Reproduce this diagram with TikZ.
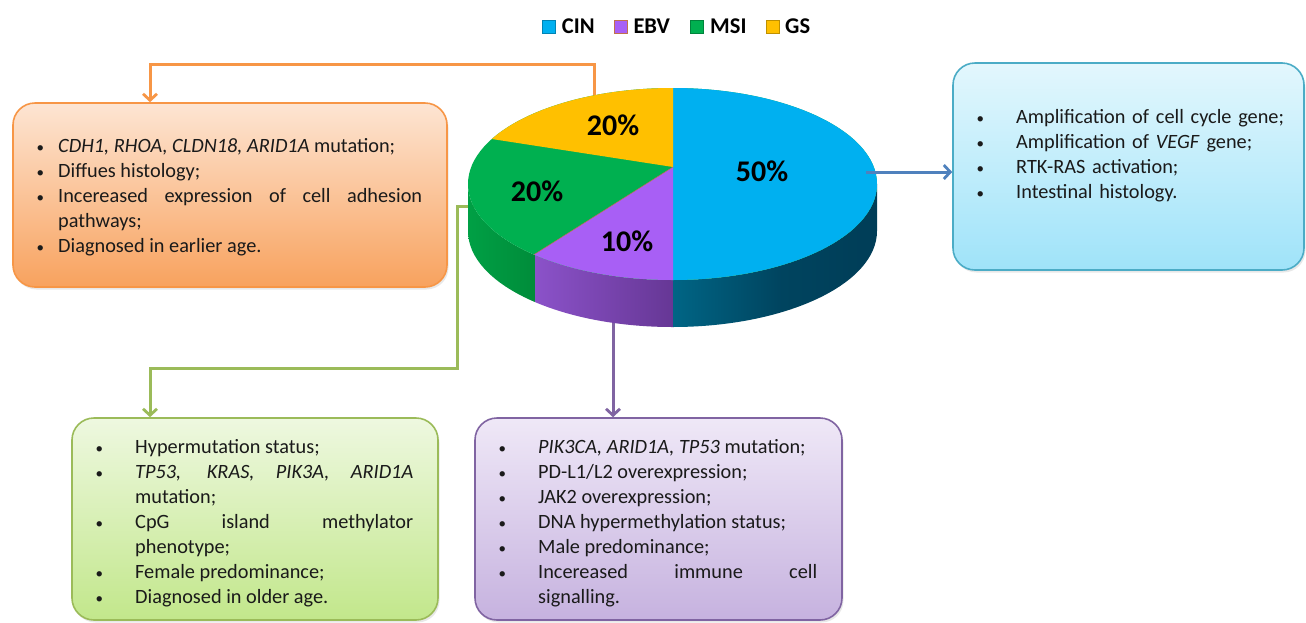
\documentclass[tikz,border=0pt]{standalone}
\usepackage{fontspec}
\setmainfont{Carlito}
\usetikzlibrary{arrows.meta,shadows}
\definecolor{cinblue}{HTML}{00B0F0}
\definecolor{ebvpurple}{HTML}{A85FF5}
\definecolor{msigreen}{HTML}{00B050}
\definecolor{gsyellow}{HTML}{FFC000}
\definecolor{cinsideL}{HTML}{006585}
\definecolor{cinsideM}{HTML}{00445F}
\definecolor{cinsideR}{HTML}{003C56}
\definecolor{ebvsideL}{HTML}{8B52C9}
\definecolor{ebvsideR}{HTML}{663795}
\definecolor{msisideL}{HTML}{00A246}
\definecolor{msisideR}{HTML}{008C3A}
\definecolor{gsline}{HTML}{F79646}
\definecolor{msiline}{HTML}{9BBB59}
\definecolor{cinline}{HTML}{4F81BD}
\definecolor{ebvline}{HTML}{8064A2}
\definecolor{cinframe}{HTML}{4BACC6}
\definecolor{gsTop}{HTML}{FDE5D3}
\definecolor{gsBot}{HTML}{F8A25E}
\definecolor{cinTop}{HTML}{E3F7FD}
\definecolor{cinBot}{HTML}{9FE3F9}
\definecolor{msiTop}{HTML}{EEF8E0}
\definecolor{msiBot}{HTML}{C2E78B}
\definecolor{ebvTop}{HTML}{EFE8F7}
\definecolor{ebvBot}{HTML}{C6B2DF}
\definecolor{inktext}{HTML}{1A1A1A}
\definecolor{sliceedge}{HTML}{C0704D}
\newcommand{\bitem}[2]{\hangindent=#1\hangafter=1\noindent\makebox[#1][l]{\rule{0pt}{16pt}\hspace*{1.5pt}{\fontsize{15}{15}\selectfont\textbullet}}#2\par}
\begin{document}
\begin{tikzpicture}[x=1pt,y=-1pt,
  box/.style={draw, line width=1.6pt, rounded corners=22pt, inner sep=0pt,
    drop shadow={opacity=0.18,shadow xshift=1.5pt,shadow yshift=-2.5pt}},
  txt/.style={anchor=north west, inner sep=0pt, align=justify, text=inktext},
  conn/.style={line width=3pt, -{Straight Barb[length=6.5pt,width=14pt,line width=2.8pt]}},
  pct/.style={font=\fontsize{30}{30}\selectfont\bfseries, inner sep=0pt},
  leg/.style={font=\fontsize{22.5}{23}\selectfont\bfseries, anchor=base west, inner sep=0pt},
  legsq/.style={minimum size=13pt, inner sep=0pt, draw=#1!75!black, fill=#1, line width=0.6pt}]
\useasboundingbox[fill=white] (0,0) rectangle (1306,622);

% legend
\node[legsq=cinblue] (sqcin) at (548.3,26.7) {};
\node[leg] (legcin) at (561.7,33) {CIN};
\node[legsq=ebvpurple, draw=sliceedge] (sqebv) at (620.3,26.7) {};
\node[leg] (legebv) at (633.3,33) {EBV};
\node[legsq=msigreen] (sqmsi) at (697,26.7) {};
\node[leg] (legmsi) at (710,33) {MSI};
\node[legsq=gsyellow] (sqgs) at (773,26.7) {};
\node[leg] (leggs) at (785,33) {GS};

% boxes
\node[box, draw=gsline, top color=gsTop, bottom color=gsBot, minimum width=434pt, minimum height=184pt] (gsbox) at (230,195) {};
\node[box, draw=cinframe, top color=cinTop, bottom color=cinBot, minimum width=351pt, minimum height=207pt] (cinbox) at (1128.5,166.5) {};
\node[box, draw=msiline, top color=msiTop, bottom color=msiBot, minimum width=366pt, minimum height=202pt] (msibox) at (255,519) {};
\node[box, draw=ebvline, top color=ebvTop, bottom color=ebvBot, minimum width=367pt, minimum height=202pt] (ebvbox) at (658.5,519) {};

% texts
\node[txt, text width=387pt, font=\fontsize{20.3}{25}\selectfont] (gstxt) at (35,136) {%
\bitem{23pt}{\textit{CDH1, RHOA, CLDN18, ARID1A} mutation;}
\bitem{23pt}{Diffues histology;}
\bitem{23pt}{Incereased expression of cell adhesion\linebreak pathways;}
\bitem{23pt}{Diagnosed in earlier age.}};
\node[txt, text width=320pt, align=left, font=\fontsize{20.3}{25}\selectfont] (cintxt) at (975,107) {%
\bitem{41pt}{Amplification of cell cycle gene;}
\bitem{41pt}{Amplification of \textit{VEGF} gene;}
\bitem{41pt}{RTK-RAS activation;}
\bitem{41pt}{Intestinal histology.}};
\node[txt, text width=319pt, font=\fontsize{20.3}{25}\selectfont] (msitxt) at (94,437) {%
\bitem{41pt}{Hypermutation status;}
\bitem{41pt}{\textit{TP53, KRAS, PIK3A, ARID1A}\linebreak mutation;}
\bitem{41pt}{CpG island methylator\linebreak phenotype;}
\bitem{41pt}{Female predominance;}
\bitem{41pt}{Diagnosed in older age.}};
\node[txt, text width=320pt, font=\fontsize{20.3}{25}\selectfont] (ebvtxt) at (497,437) {%
\bitem{41pt}{\textit{PIK3CA, ARID1A, TP53} mutation;}
\bitem{41pt}{PD-L1/L2 overexpression;}
\bitem{41pt}{JAK2 overexpression;}
\bitem{41pt}{DNA hypermethylation status;}
\bitem{41pt}{Male predominance;}
\bitem{41pt}{Incereased immune cell\linebreak signalling.}};

% connector anchor points on the pie
\coordinate (gsout) at (594,100);
\coordinate (gsbend) at (150,64);
\coordinate (cinout) at (866,172);
\coordinate (msiout) at (478,206);
\coordinate (msibend) at (457,368);
\coordinate (msidrop) at (150,368);
\coordinate (ebvout) at (613,316);

\draw[conn, gsline] (gsout) |- (gsbend) -- (gsbend |- gsbox.north);
\draw[conn, msiline] (msiout) -| (msibend) -- (msidrop) -- (msidrop |- msibox.north);
\draw[conn, ebvline] (ebvout) -- (ebvout |- ebvbox.north);

% pie side
\begin{scope}
\clip (877,184) -- (877,231) arc[start angle=0,end angle=180,x radius=204.5,y radius=96]
  -- (468,184) arc[start angle=180,end angle=0,x radius=204.5,y radius=96] -- cycle;
\shade[left color=msisideL, right color=msisideR] (460,150) rectangle (535,340);
\shade[left color=ebvsideL, right color=ebvsideR] (535,150) rectangle (673,340);
\shade[left color=cinsideL, right color=cinsideR, middle color=cinsideM] (673,150) rectangle (890,340);
\end{scope}
% pie top
\begin{scope}
\clip (672.5,184) ellipse[x radius=204.5, y radius=96];
\fill[msigreen] (460,80) rectangle (890,290);
\fill[cinblue] (673,80) rectangle (890,290);
\fill[gsyellow] (673,167) -- (673,80) -- (440,80) -- (440,131) -- cycle;
\fill[ebvpurple] (673,167) -- (673,400) -- (397,400) -- (397,341) -- cycle;
\draw[sliceedge, line width=0.5pt] (673,167) -- (397,341);
\end{scope}
\draw[conn, cinline] (cinout) -- (cinout -| cinbox.west);

\node[pct] (p50) at (762,171) {50\%};
\node[pct] (p20a) at (613,125) {20\%};
\node[pct] (p20b) at (537,191) {20\%};
\node[pct] (p10) at (627,241) {10\%};
\end{tikzpicture}
\end{document}
